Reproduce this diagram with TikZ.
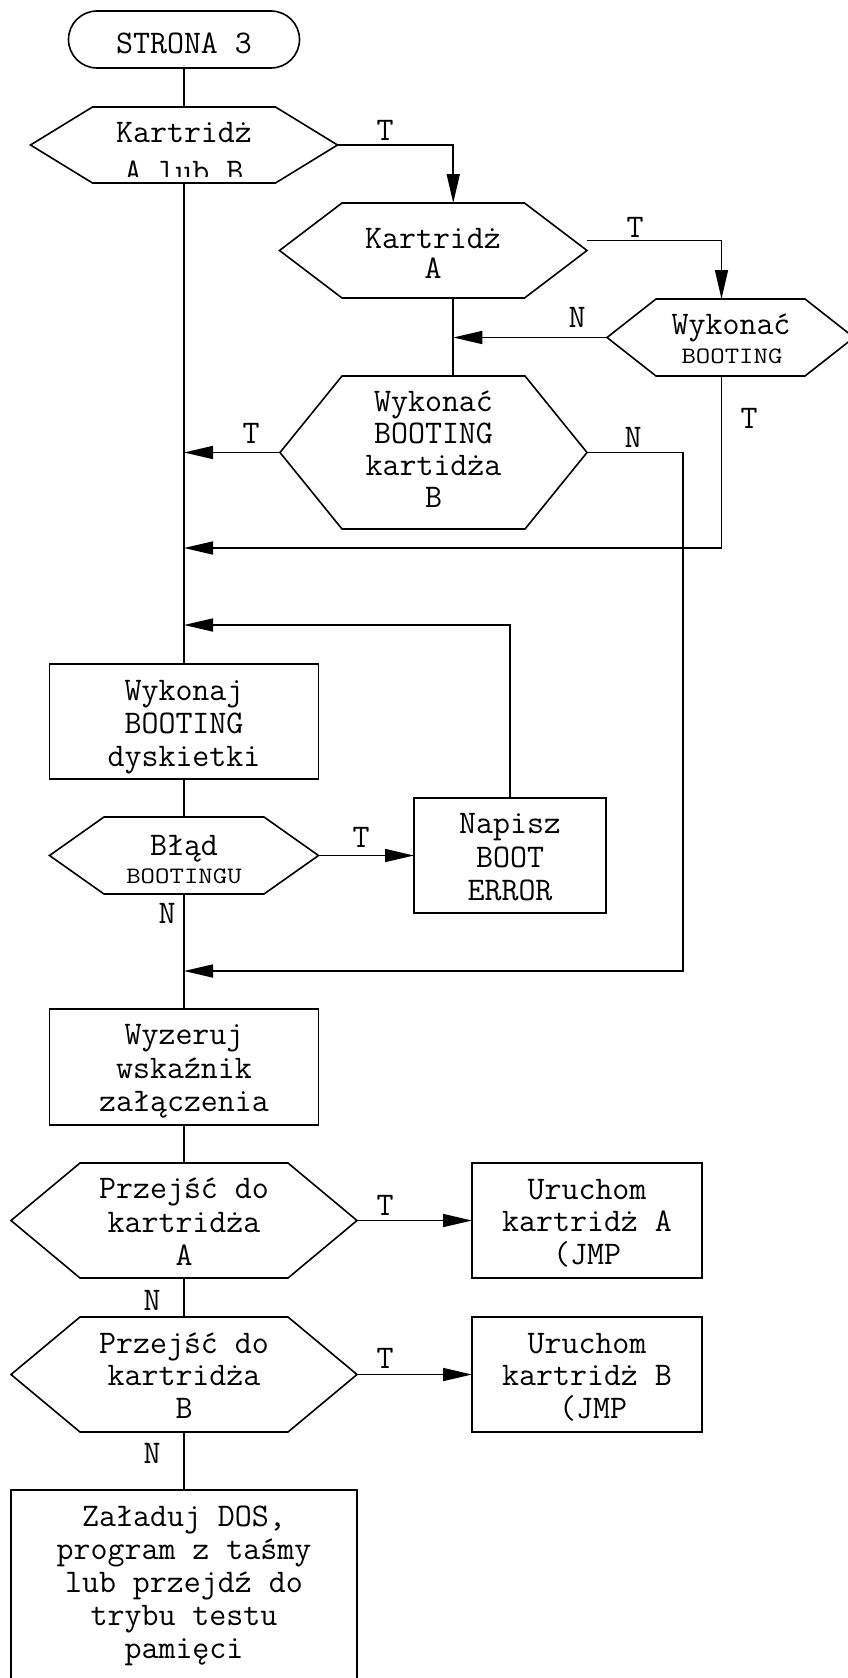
\documentclass[tikz,border=0pt]{standalone}
\usetikzlibrary{arrows.meta}

% hexagonal decision outline drawn on the anchors of a named box node
\newcommand\hexoutline[2]{%
  \draw[flow] (#1.west) -- ([xshift=#2]#1.north west) -- ([xshift=-#2]#1.north east)
    -- (#1.east) -- ([xshift=-#2]#1.south east) -- ([xshift=#2]#1.south west) -- cycle;}
\newcommand\smallcaps[1]{{\fontsize{28}{28}\selectfont\scalebox{1}[0.84]{#1}}}

\begin{document}
\begin{tikzpicture}[x=1pt,y=-1pt,
  flow/.style={line width=1.6pt, line join=miter},
  arr/.style={flow, -{Triangle[length=29pt,width=13pt]}},
  frame/.style={rectangle, draw=none, inner sep=0pt, outer sep=0pt},
  procbox/.style={rectangle, draw, line width=1.6pt, inner sep=0pt, outer sep=0pt},
  txt/.style={inner sep=0pt, outer sep=0pt, align=center, anchor=north,
    font=\ttfamily\fontsize{33}{#1}\selectfont},
  lbl/.style={inner sep=0pt, outer sep=0pt, anchor=base,
    font=\ttfamily\fontsize{33}{33}\selectfont},
]
\clip (0,0) rectangle (848,1678);

% ---- shapes ----
\node[procbox, rounded corners=28.5pt, minimum width=231pt, minimum height=57pt] (start) at (184,39.5) {};
\node[frame, minimum width=307pt, minimum height=76pt] (h1) at (184,145) {};
\hexoutline{h1}{62pt}
\node[frame, minimum width=307.5pt, minimum height=95pt] (h2) at (433.25,250.5) {};
\hexoutline{h2}{62.5pt}
\node[frame, minimum width=247pt, minimum height=77pt] (h3) at (730.5,337.5) {};
\hexoutline{h3}{49pt}
\node[frame, minimum width=307pt, minimum height=153pt] (h4) at (433.5,452.5) {};
\hexoutline{h4}{62pt}
\node[procbox, minimum width=269pt, minimum height=115pt] (b1) at (184,721.5) {};
\node[frame, minimum width=269pt, minimum height=77pt] (h5) at (184,855.5) {};
\hexoutline{h5}{54.5pt}
\node[procbox, minimum width=192pt, minimum height=115pt] (b2) at (510,855.5) {};
\node[procbox, minimum width=269pt, minimum height=116pt] (b3) at (184,1067) {};
\node[frame, minimum width=346pt, minimum height=115pt] (h6) at (184,1220.5) {};
\hexoutline{h6}{69pt}
\node[procbox, minimum width=230pt, minimum height=115pt] (b4) at (587,1220.5) {};
\node[frame, minimum width=346pt, minimum height=115pt] (h7) at (184,1374.5) {};
\hexoutline{h7}{69pt}
\node[procbox, minimum width=230pt, minimum height=115pt] (b5) at (587,1374.5) {};
\node[procbox, minimum width=346pt, minimum height=240pt] (b6) at (184,1610) {};

% ---- texts ----
\node[txt=33] (t0) at (184,29.9) {\strut STRONA 3};
\begin{scope}
  \clip (0,100) rectangle (848,176);
  \node[txt=39] (t1) at (184,114.7) {\strut Kartridż\\\strut A lub B};
\end{scope}
\node[txt=30] (t2) at (433,227) {\strut Kartridż\\\strut A};
\node[lbl] (t3a) at (731,334) {Wykonać};
\node[lbl] (t3b) at (732,363) {\smallcaps{BOOTING}};
\node[txt=31.7] (t4) at (433.5,389.8) {\strut Wykonać\\\strut BOOTING\\\strut kartidża\\\strut B};
\node[txt=33] (t5) at (184,676.9) {\strut Wykonaj\\\strut BOOTING\\\strut dyskietki};
\node[lbl] (t6a) at (184,855) {Błąd};
\node[lbl] (t6b) at (184,883) {\smallcaps{BOOTINGU}};
\node[txt=33.5] (t7) at (510,810.5) {\strut Napisz\\\strut BOOT\\\strut ERROR};
\node[txt=33.5] (t8) at (184,1021.5) {\strut Wyzeruj\\\strut wskaźnik\\\strut załączenia};
\node[txt=33.5] (t9) at (184,1175.5) {\strut Przejść do\\\strut kartridża\\\strut A};
\node[txt=32] (t10) at (587,1176.6) {\strut Uruchom\\\strut kartridż A\\\strut (JMP};
\node[txt=32.5] (t11) at (184,1330.3) {\strut Przejść do\\\strut kartridża\\\strut B};
\node[txt=32] (t12) at (587,1330.6) {\strut Uruchom\\\strut kartridż B\\\strut\hspace*{12pt}(JMP};
\node[txt=33] (t13) at (184,1502.9) {\strut Załaduj DOS,\\\strut program z taśmy\\\strut lub przejdź do\\\strut trybu testu\\\strut pamięci};

% ---- branch labels ----
\node[lbl] (l1) at (385,140) {T};
\node[lbl] (l2) at (635,237) {T};
\node[lbl] (l3) at (577,327) {N};
\node[lbl] (l4) at (749,428) {T};
\node[lbl] (l5) at (251,443) {T};
\node[lbl] (l6) at (633,447) {N};
\node[lbl] (l7) at (361,847) {T};
\node[lbl] (l8) at (167,923) {N};
\node[lbl] (l9) at (385,1215) {T};
\node[lbl] (l10) at (152,1310) {N};
\node[lbl] (l11) at (385,1368) {T};
\node[lbl] (l12) at (152,1463) {N};

% ---- junction points ----
\coordinate (colB) at ([xshift=20pt]h2.south);
\coordinate (jT) at (184,548);
\coordinate (jL) at (184,625);
\coordinate (jN) at (184,971);
\coordinate (rx) at (683,971);

% ---- connectors ----
\draw[flow] (start.south) -- (h1.north);
\draw[flow] (h1.south) -- (b1.north);
\draw[arr] (h1.east) -| ([xshift=20pt]h2.north);
\draw[arr] ([yshift=10pt]h2.east) -| ([xshift=-9pt]h3.north);
\draw[arr] (h3.west) -- (h3.west -| colB);
\draw[flow] (colB) -- (colB |- h4.north);
\draw[arr] (h4.west) -- (h4.west -| h1.south);
\draw[arr] ([xshift=-9pt]h3.south) |- (jT);
\draw[arr] (h4.east) -- (h4.east -| rx) |- (jN);
\draw[arr] (b2.north) |- (jL);
\draw[flow] (b1.south) -- (h5.north);
\draw[arr] (h5.east) -- (b2.west);
\draw[flow] (h5.south) -- (b3.north);
\draw[flow] (b3.south) -- (h6.north);
\draw[arr] (h6.east) -- (b4.west);
\draw[flow] (h6.south) -- (h7.north);
\draw[arr] (h7.east) -- (b5.west);
\draw[flow] (h7.south) -- (b6.north);
\end{tikzpicture}
\end{document}
